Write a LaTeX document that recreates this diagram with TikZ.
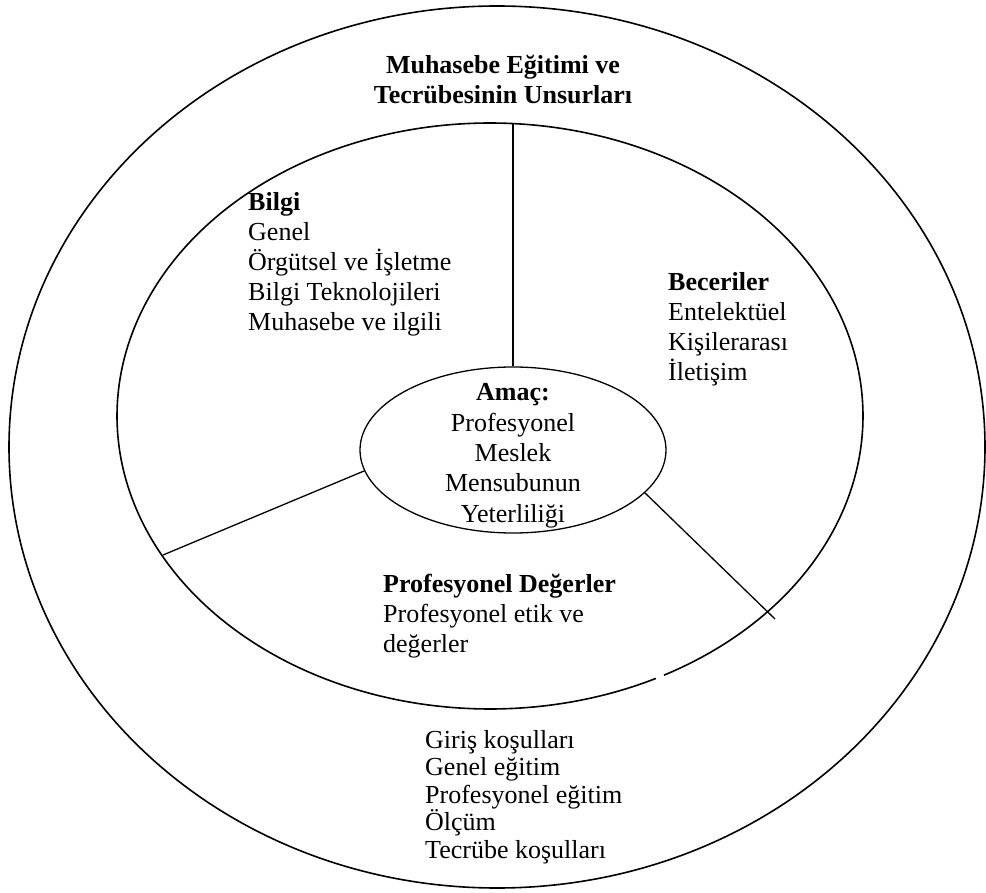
\documentclass[tikz,border=0pt]{standalone}
\usepackage{fontspec}
\setmainfont{Liberation Serif}
\usetikzlibrary{shapes.geometric}

\begin{document}
\begin{tikzpicture}[x=1pt, y=-1pt,
    ring/.style={line width=1.6pt},
    spoke/.style={line width=1.3pt},
    listtext/.style={inner sep=0pt, align=left, anchor=base west,
      font=\fontsize{26}{30}\selectfont}]
  \useasboundingbox (0,0) rectangle (986,893);

  % outer ring, inner ring (with its small break) and the goal
  \node[ellipse, draw, ring, inner sep=0pt, minimum width=976pt,
    minimum height=882pt] (outer) at (497,447) {};
  \draw[ring] plot[domain=63.6:422.2, samples=240, smooth]
    ({490+373*cos(\x)}, {416+293*sin(\x)});
  \node[ellipse, draw, spoke, inner sep=0pt, minimum width=306pt,
    minimum height=166pt] (goal) at (513,450) {};

  \coordinate (topcut) at (513,124);
  \coordinate (leftcut) at (163,555);
  \coordinate (rightcut) at (775,619);
  \draw[spoke] (goal.north) -- (topcut);
  \draw[spoke] (goal.188) -- (leftcut);
  \draw[spoke] (goal.342) -- (rightcut);

  % texts (base = last line)
  \node[inner sep=0pt, align=center, anchor=base,
    font=\bfseries\fontsize{26}{30}\selectfont] (title) at (503,104)
    {Muhasebe Eğitimi ve\\Tecrübesinin Unsurları};
  \node[inner sep=0pt, align=center, anchor=base,
    font=\fontsize{26}{30.3}\selectfont] (goaltext) at (513,522)
    {\textbf{Amaç:}\\Profesyonel\\Meslek\\Mensubunun\\Yeterliliği};
  \node[listtext] (knowledge) at (248,331)
    {\textbf{Bilgi}\\Genel\\Örgütsel ve İşletme\\Bilgi Teknolojileri\\Muhasebe ve ilgili};
  \node[listtext] (skills) at (668,381)
    {\textbf{Beceriler}\\Entelektüel\\Kişilerarası\\İletişim};
  \node[listtext] (values) at (383,652)
    {\textbf{Profesyonel Değerler}\\Profesyonel etik ve\\değerler};
  \node[listtext, font=\fontsize{26}{27.5}\selectfont] (elements) at (425,858)
    {Giriş koşulları\\Genel eğitim\\Profesyonel eğitim\\Ölçüm\\Tecrübe koşulları};
\end{tikzpicture}
\end{document}
